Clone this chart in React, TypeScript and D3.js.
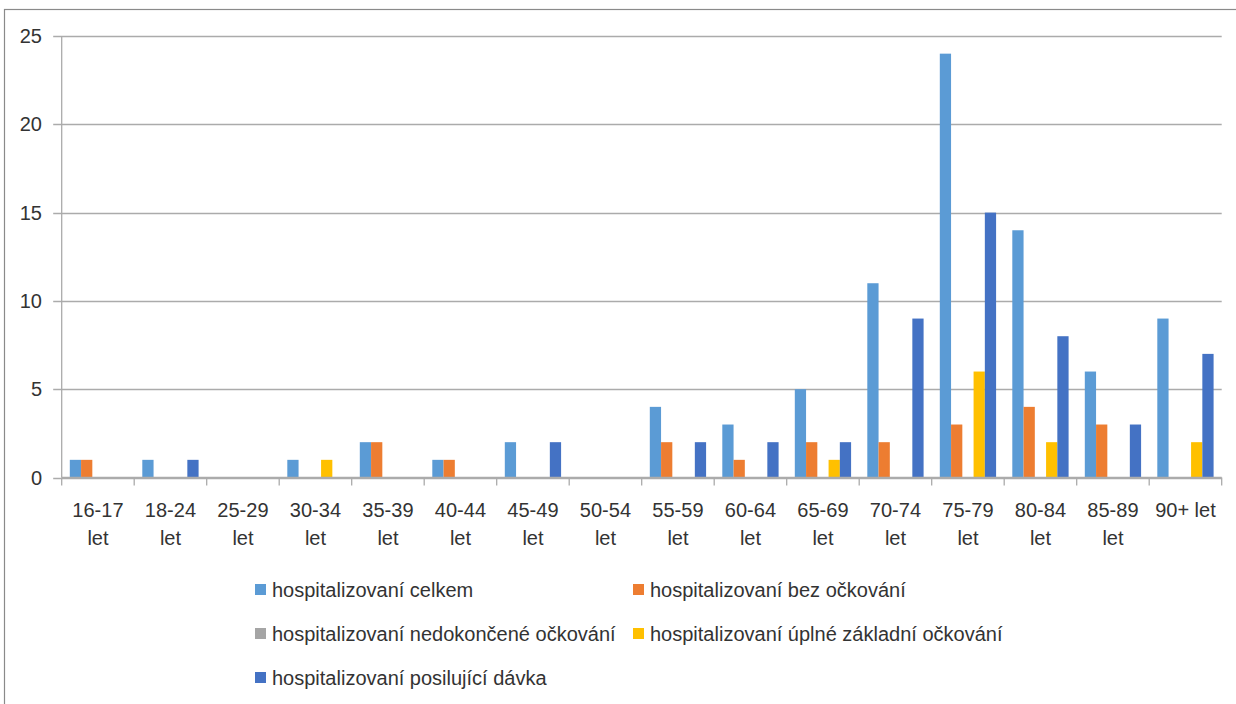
import React, { useEffect, useRef } from "react";
import * as d3 from "d3";

const categories = [
  "16-17 let", "18-24 let", "25-29 let", "30-34 let", "35-39 let", "40-44 let",
  "45-49 let", "50-54 let", "55-59 let", "60-64 let", "65-69 let", "70-74 let",
  "75-79 let", "80-84 let", "85-89 let", "90+ let",
];

const seriesNames = [
  "hospitalizovaní celkem",
  "hospitalizovaní bez očkování",
  "hospitalizovaní nedokončené očkování",
  "hospitalizovaní úplné základní očkování",
  "hospitalizovaní posilující dávka",
];

const celkem = [1, 1, 0, 1, 2, 1, 2, 0, 4, 3, 5, 11, 24, 14, 6, 9];
const bezOckovani = [1, 0, 0, 0, 2, 1, 0, 0, 2, 1, 2, 2, 3, 4, 3, 0];
const nedokoncene = [0, 0, 0, 0, 0, 0, 0, 0, 0, 0, 0, 0, 0, 0, 0, 0];
const uplne = [0, 0, 0, 1, 0, 0, 0, 0, 0, 0, 1, 0, 6, 2, 0, 2];
const posilujici = [0, 1, 0, 0, 0, 0, 2, 0, 2, 2, 2, 9, 15, 8, 3, 7];

const yTicks = [0, 5, 10, 15, 20, 25];

const seriesValues = [celkem, bezOckovani, nedokoncene, uplne, posilujici];
const colors = ["#5B9BD5", "#ED7D31", "#A5A5A5", "#FFC000", "#4472C4"];

const W = 1236;
const H = 704;
const FONT = "'Liberation Sans', Arial, sans-serif";

export default function App() {
  const ref = useRef<SVGSVGElement | null>(null);

  useEffect(() => {
    const svg = d3.select(ref.current);
    svg.selectAll("*").remove();

    const left = 61.7, right = 1221.7, top = 36, bottom = 477.5;

    svg.append("rect").attr("x", 0).attr("y", 0).attr("width", W).attr("height", H).attr("fill", "#fff");
    svg.append("rect")
      .attr("x", 4.5).attr("y", 9.5).attr("width", W + 20).attr("height", H + 20)
      .attr("fill", "none").attr("stroke", "#8a8a8a").attr("stroke-width", 1.2);

    const x = d3.scaleBand<string>().domain(categories).range([left, right]).paddingInner(0).paddingOuter(0);
    const xs = d3.scaleBand<number>().domain(d3.range(seriesNames.length)).range([0, x.bandwidth()])
      .paddingInner(0).paddingOuter(0.72);
    const y = d3.scaleLinear().domain([0, 25]).range([bottom, top]);

    // gridlines + y tick marks
    const g = svg.append("g");
    g.selectAll("line.grid").data(yTicks).join("line")
      .attr("x1", left - 8.5).attr("x2", right)
      .attr("y1", (d) => Math.round(y(d)) + 0.5).attr("y2", (d) => Math.round(y(d)) + 0.5)
      .attr("stroke", "#ababab").attr("stroke-width", 1.3);

    g.selectAll("text.ytick").data(yTicks).join("text")
      .attr("x", 42).attr("y", (d) => y(d)).attr("dy", "0.35em")
      .attr("text-anchor", "end").attr("font-family", FONT).attr("font-size", 20)
      .attr("fill", "#333").text((d) => String(d));

    // y axis line
    svg.append("line").attr("x1", left).attr("x2", left).attr("y1", top).attr("y2", bottom)
      .attr("stroke", "#ababab").attr("stroke-width", 1.3);

    // bars
    const bars = svg.append("g");
    seriesValues.forEach((vals, si) => {
      bars.selectAll(`rect.s${si}`).data(vals).join("rect")
        .attr("x", (_d, i) => (x(categories[i]) as number) + (xs(si) as number))
        .attr("width", xs.bandwidth())
        .attr("y", (d) => y(d))
        .attr("height", (d) => y(0) - y(d))
        .attr("fill", colors[si]);
    });

    // x axis ticks at boundaries
    const bounds = categories.map((c) => x(c) as number).concat([right]);
    svg.append("g").selectAll("line").data(bounds).join("line")
      .attr("x1", (d) => d).attr("x2", (d) => d).attr("y1", bottom).attr("y2", bottom + 8)
      .attr("stroke", "#ababab").attr("stroke-width", 1.3);
    svg.append("line").attr("x1", left).attr("x2", right).attr("y1", bottom).attr("y2", bottom)
      .attr("stroke", "#ababab").attr("stroke-width", 1.3);

    // x labels with wrapping
    const xl = svg.append("g");
    categories.forEach((c) => {
      const cx = (x(c) as number) + x.bandwidth() / 2;
      const t = xl.append("text").attr("x", cx).attr("y", 517)
        .attr("text-anchor", "middle").attr("font-family", FONT).attr("font-size", 20).attr("fill", "#333");
      t.text(c);
      const w = (t.node() as SVGTextElement).getComputedTextLength();
      if (w > x.bandwidth() - 2) {
        const words = c.split(" ");
        const last = words.pop() as string;
        t.text(null);
        t.append("tspan").attr("x", cx).attr("y", 517).text(words.join(" "));
        t.append("tspan").attr("x", cx).attr("y", 545).text(last);
      }
    });

    // legend
    const legend = svg.append("g");
    const lx = [255, 633];
    const ly = [590, 634, 678];
    seriesNames.forEach((name, i) => {
      const col = i % 2;
      const row = Math.floor(i / 2);
      legend.append("rect").attr("x", lx[col]).attr("y", ly[row] - 6).attr("width", 11).attr("height", 11)
        .attr("fill", colors[i]);
      legend.append("text").attr("x", lx[col] + 17).attr("y", ly[row]).attr("dy", "0.35em")
        .attr("font-family", FONT).attr("font-size", 20).attr("fill", "#333").text(name);
    });
  }, []);

  return (
    <svg
      ref={ref}
      width={W}
      height={H}
      style={{ position: "absolute", left: 0, top: 0, display: "block" }}
    />
  );
}
